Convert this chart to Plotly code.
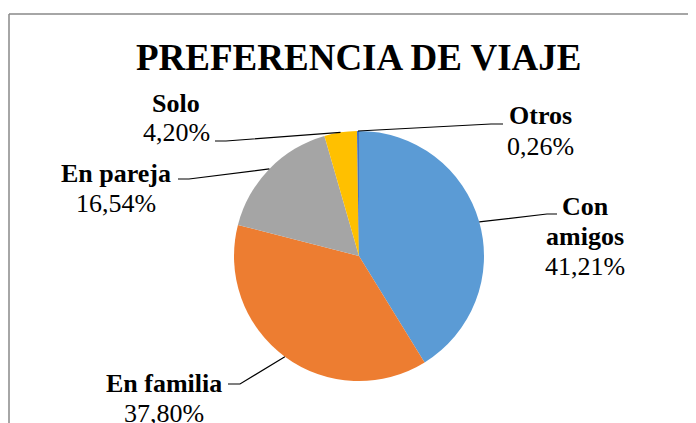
import math
import plotly.graph_objects as go

# ---- data ----
categories = ["Con amigos", "En familia", "En pareja", "Solo", "Otros"]
values = [41.21, 37.80, 16.54, 4.20, 0.26]
pct_labels = ["41,21%", "37,80%", "16,54%", "4,20%", "0,26%"]
name_lines = [["Con", "amigos"], ["En familia"], ["En pareja"], ["Solo"], ["Otros"]]
colors = ["#5B9BD5", "#ED7D31", "#A5A5A5", "#FFC000", "#4472C4"]
title_text = "PREFERENCIA DE VIAJE"

# ---- layout geometry (pixels in the screenshot) ----
W, H = 696, 423
OFF = 8  # page body margin offset
CX, CY, R = 359, 256, 125
FONT = "Liberation Serif"
LFS = 26  # label font size

# per-label: text centre x, first baseline y, leader start, elbow
label_layout = {
    "Con amigos": dict(x=585, base=215, start=(557, 214), elbow=(547, 214)),
    "En familia": dict(x=164, base=392, start=(228, 384), elbow=(240, 384)),
    "En pareja": dict(x=116, base=182, start=(178, 179), elbow=(189, 179)),
    "Solo": dict(x=176, base=112, start=(215, 141), elbow=(226, 141)),
    "Otros": dict(x=540, base=125, start=(503, 124), elbow=(491, 124)),
}
LINE_GAP = 30


def px(x):
    return (x - OFF) / W


def py(y):
    return 1 - (y - OFF) / H


fig = go.Figure()
fig.add_trace(go.Pie(
    labels=categories,
    values=values,
    sort=False,
    direction="clockwise",
    rotation=0,
    marker=dict(colors=colors, line=dict(width=0)),
    textinfo="none",
    hoverinfo="label+percent",
    showlegend=False,
    domain=dict(x=[px(CX - R), px(CX + R)], y=[py(CY + R), py(CY - R)]),
))

annotations = []
shapes = []

# title
annotations.append(dict(
    text="<b>" + title_text + "</b>", x=px(358), y=py(57), xref="paper", yref="paper",
    xanchor="center", yanchor="middle", showarrow=False,
    font=dict(family=FONT, size=37, color="#000000"),
))

total = sum(values)
cum = 0.0
for cat, val, pct, lines in zip(categories, values, pct_labels, name_lines):
    mid = (cum + val / 2) / total
    cum += val
    t = 2 * math.pi * mid
    ex = CX + R * math.sin(t)
    ey = CY - R * math.cos(t)
    L = label_layout[cat]
    texts = [("<b>" + s + "</b>") for s in lines] + [pct]
    for i, s in enumerate(texts):
        base = L["base"] + i * LINE_GAP
        annotations.append(dict(
            text=s, x=px(L["x"]), y=py(base - 9), xref="paper", yref="paper",
            xanchor="center", yanchor="middle", showarrow=False,
            font=dict(family=FONT, size=LFS, color="#000000"),
        ))
    (sx, sy), (bx, by) = L["start"], L["elbow"]
    path = "M {} {} L {} {} L {} {}".format(px(sx), py(sy), px(bx), py(by), px(ex), py(ey))
    shapes.append(dict(type="path", path=path, xref="paper", yref="paper",
                       line=dict(color="#000000", width=1.2)))

# chart border (top and left edges visible)
shapes.append(dict(type="line", xref="paper", yref="paper",
                   x0=px(9), y0=py(14), x1=1.02, y1=py(14),
                   line=dict(color="#898989", width=1.5)))
shapes.append(dict(type="line", xref="paper", yref="paper",
                   x0=px(9), y0=py(14), x1=px(9), y1=-0.02,
                   line=dict(color="#898989", width=1.5)))

fig.update_layout(
    width=W, height=H,
    margin=dict(l=0, r=0, t=0, b=0),
    paper_bgcolor="#FFFFFF", plot_bgcolor="#FFFFFF",
    annotations=annotations, shapes=shapes,
)

fig.write_html("out.html")
